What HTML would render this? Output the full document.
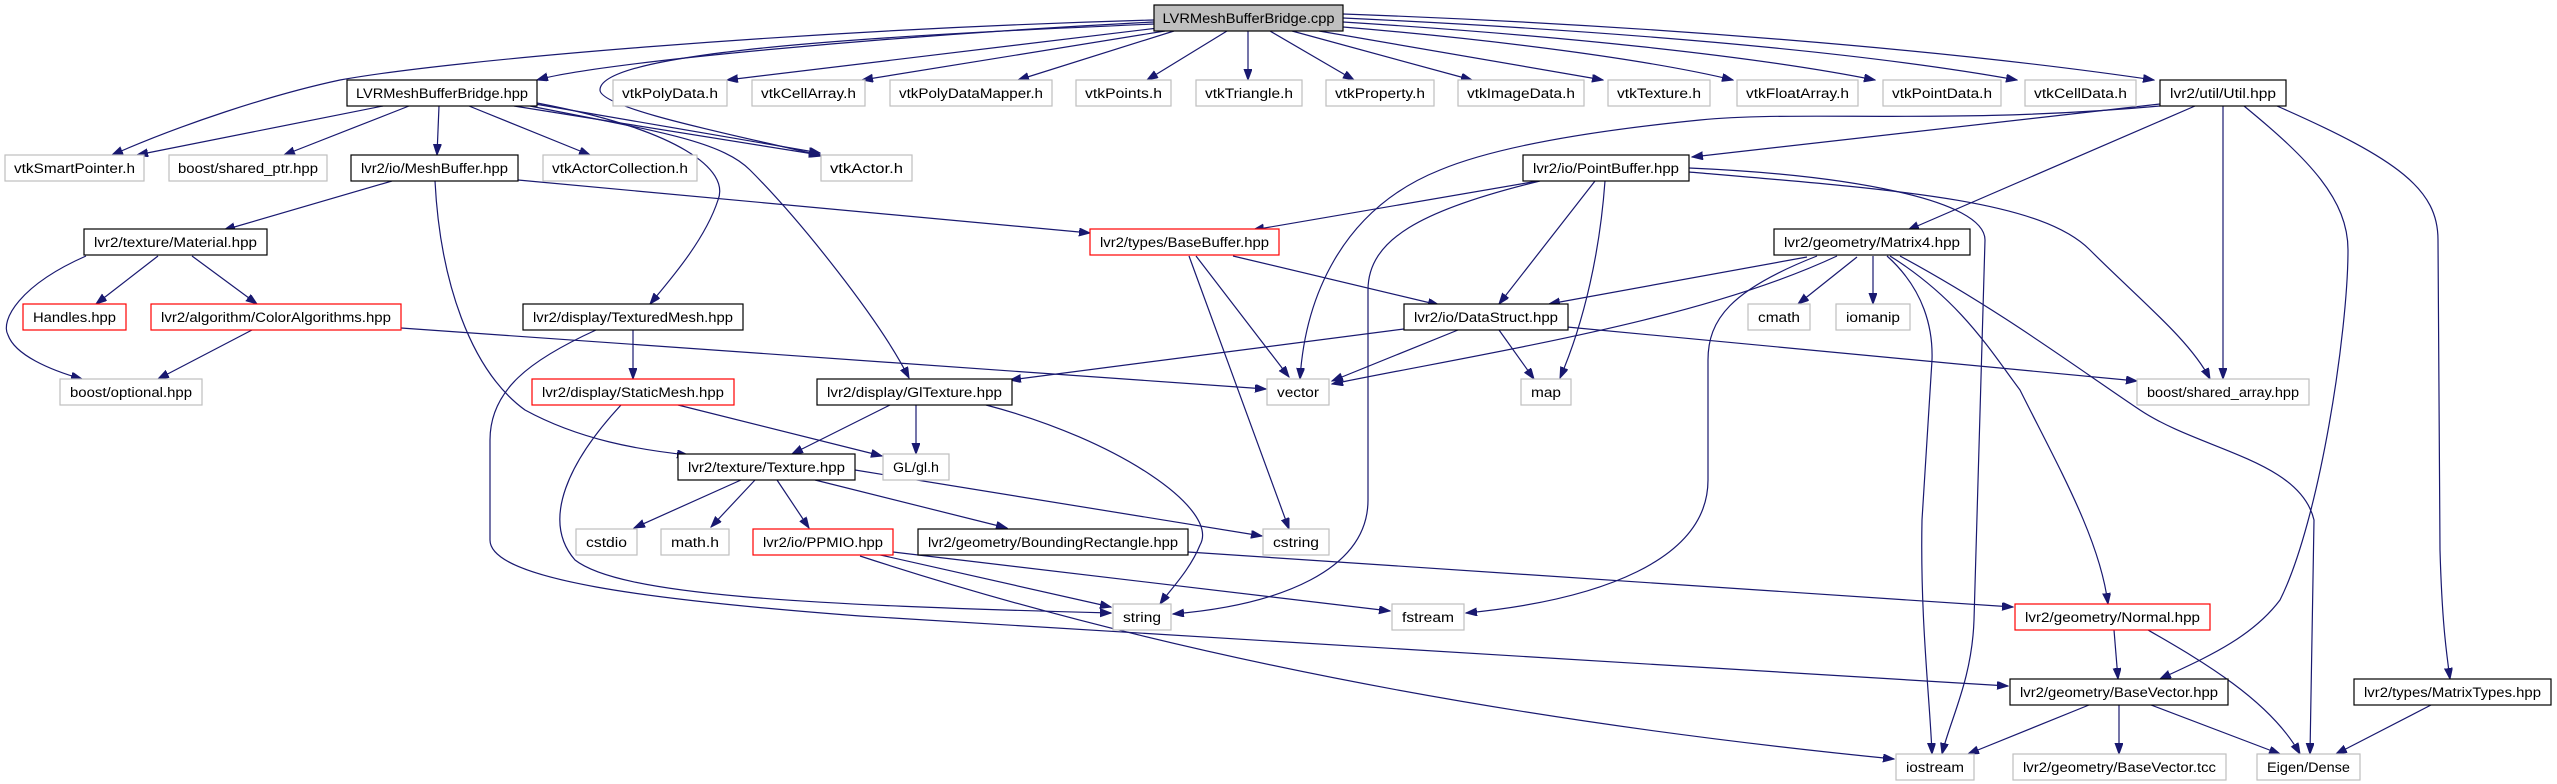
<!DOCTYPE html>
<html><head><meta charset="utf-8"><style>
html,body{margin:0;padding:0;background:#fff;}
svg{display:block;}
text{font-family:"Liberation Sans",sans-serif;font-size:13.5px;fill:#000;}
.g{fill:#fff;stroke:#bfbfbf;stroke-width:1.2}
.k{fill:#fff;stroke:#000;stroke-width:1.2}
.r{fill:#fff;stroke:#ff0000;stroke-width:1.2}
.e{fill:none;stroke:#191970;stroke-width:1.2;marker-end:url(#a)}
</style></head><body>
<svg width="2557" height="784" viewBox="0 0 2557 784" xmlns="http://www.w3.org/2000/svg">
<defs><marker id="a" markerUnits="userSpaceOnUse" markerWidth="12" markerHeight="10" refX="11" refY="4" orient="auto"><path d="M0,0 L11,4 L0,8 z" fill="#191970" stroke="#191970"/></marker></defs>
<g>
<path class="e" d="M1154,22 C900,35 600,62 537,80"/>
<path class="e" d="M1154,20 C800,30 450,60 340,80 C270,95 180,125 112,155"/>
<path class="e" d="M1154,24 C900,35 600,50 600,90 C600,110 760,140 822,156"/>
<path class="e" d="M1158,28 L727,80"/>
<path class="e" d="M1165,31 L862,80"/>
<path class="e" d="M1174,31 L1018,80"/>
<path class="e" d="M1227,31 L1147,80"/>
<path class="e" d="M1248,31 L1248,80"/>
<path class="e" d="M1270,31 L1354,80"/>
<path class="e" d="M1292,31 L1472,80"/>
<path class="e" d="M1319,31 L1603,80"/>
<path class="e" d="M1343,27 C1500,40 1650,60 1733,80"/>
<path class="e" d="M1343,22 C1550,35 1750,55 1875,80"/>
<path class="e" d="M1343,18 C1600,30 1850,50 2017,80"/>
<path class="e" d="M1343,14 C1650,25 1950,50 2154,80"/>
<path class="e" d="M383,106 L137,155"/>
<path class="e" d="M409,106 L284,155"/>
<path class="e" d="M439,106 L437,155"/>
<path class="e" d="M469,106 L590,155"/>
<path class="e" d="M514,106 L820,155"/>
<path class="e" d="M535,104 L820,153"/>
<path class="e" d="M537,103 C680,130 730,170 718,200 C705,240 670,280 650,304"/>
<path class="e" d="M530,106 C650,130 720,140 750,170 C800,220 880,320 909,378"/>
<path class="e" d="M392,181 L224,230"/>
<path class="e" d="M518,180 L1090,233"/>
<path class="e" d="M435,181 C440,280 470,370 525,410 C580,440 640,450 688,455"/>
<path class="e" d="M158,256 L96,304"/>
<path class="e" d="M192,256 L257,304"/>
<path class="e" d="M86,256 C20,285 0,320 8,335 C15,355 50,370 82,379"/>
<path class="e" d="M252,330 L158,379"/>
<path class="e" d="M401,328 L1266,389"/>
<path class="e" d="M633,330 L633,379"/>
<path class="e" d="M596,330 C530,360 490,390 490,440 L490,540 C490,580 650,600 860,616 L2008,686"/>
<path class="e" d="M678,405 L882,456"/>
<path class="e" d="M621,405 C570,460 540,520 575,560 C620,595 800,605 1111,613"/>
<path class="e" d="M890,405 L792,454"/>
<path class="e" d="M916,405 L916,454"/>
<path class="e" d="M986,405 C1120,440 1220,510 1200,545 C1190,570 1170,590 1160,604"/>
<path class="e" d="M741,480 L634,528"/>
<path class="e" d="M755,480 L711,527"/>
<path class="e" d="M777,480 L809,528"/>
<path class="e" d="M815,480 L1007,528"/>
<path class="e" d="M855,470 L1262,536"/>
<path class="e" d="M876,554 L1111,607"/>
<path class="e" d="M893,552 L1390,611"/>
<path class="e" d="M860,556 Q1300,700 1894,759"/>
<path class="e" d="M1188,552 L2013,607"/>
<path class="e" d="M1196,256 L1289,377"/>
<path class="e" d="M1189,256 L1289,529"/>
<path class="e" d="M1233,256 L1439,305"/>
<path class="e" d="M1538,181 L1253,230"/>
<path class="e" d="M1595,181 L1499,304"/>
<path class="e" d="M1605,181 C1600,250 1585,320 1560,378"/>
<path class="e" d="M1540,181 C1420,210 1368,240 1368,290 L1368,500 C1368,570 1280,605 1173,614"/>
<path class="e" d="M1689,168 C1850,175 1985,200 1985,240 L1974,620 C1972,680 1950,720 1942,754"/>
<path class="e" d="M1689,172 C1900,190 2040,200 2090,250 C2140,300 2190,340 2210,379"/>
<path class="e" d="M2160,104 L1692,157"/>
<path class="e" d="M2160,106 C1950,125 1800,110 1700,120 C1600,130 1500,145 1440,170 C1340,210 1305,300 1300,379"/>
<path class="e" d="M2195,106 L1908,230"/>
<path class="e" d="M2223,106 L2223,379"/>
<path class="e" d="M2244,106 C2310,160 2348,200 2348,250 C2348,330 2320,520 2280,600 C2250,640 2200,660 2160,679"/>
<path class="e" d="M2277,106 C2400,160 2438,190 2438,240 L2440,550 C2442,620 2446,650 2450,679"/>
<path class="e" d="M1807,257 L1549,304"/>
<path class="e" d="M1837,256 C1700,320 1500,350 1332,384"/>
<path class="e" d="M1857,257 L1798,304"/>
<path class="e" d="M1873,256 L1873,304"/>
<path class="e" d="M1817,256 C1730,290 1708,320 1708,360 L1708,480 C1708,560 1600,600 1466,613"/>
<path class="e" d="M1887,256 C1925,290 1933,330 1932,360 L1922,520 C1920,620 1930,700 1932,754"/>
<path class="e" d="M1890,256 C1960,300 1990,350 2020,390 C2060,470 2100,540 2108,604"/>
<path class="e" d="M1900,256 C2000,310 2080,370 2140,410 C2200,450 2300,460 2314,520 L2310,754"/>
<path class="e" d="M1404,329 L1010,380"/>
<path class="e" d="M1458,330 L1332,381"/>
<path class="e" d="M1499,330 L1534,379"/>
<path class="e" d="M1567,327 L2137,381"/>
<path class="e" d="M2114,630 L2118,679"/>
<path class="e" d="M2148,630 C2200,660 2270,700 2300,754"/>
<path class="e" d="M2089,705 L1968,754"/>
<path class="e" d="M2119,705 L2119,754"/>
<path class="e" d="M2151,705 L2280,754"/>
<path class="e" d="M2431,705 L2336,754"/>
</g>
<g>
<rect x="1154" y="5" width="189" height="26" fill="#bfbfbf" stroke="#000" stroke-width="1.2"/><text x="1248.5" y="23" text-anchor="middle" textLength="172" lengthAdjust="spacingAndGlyphs">LVRMeshBufferBridge.cpp</text>

<rect class="k" x="347" y="80" width="190" height="26"/><text x="442" y="98" text-anchor="middle" textLength="172" lengthAdjust="spacingAndGlyphs">LVRMeshBufferBridge.hpp</text>
<rect class="g" x="613" y="80" width="114" height="26"/><text x="670" y="98" text-anchor="middle" textLength="96" lengthAdjust="spacingAndGlyphs">vtkPolyData.h</text>
<rect class="g" x="752" y="80" width="113" height="26"/><text x="808.5" y="98" text-anchor="middle" textLength="95" lengthAdjust="spacingAndGlyphs">vtkCellArray.h</text>
<rect class="g" x="890" y="80" width="162" height="26"/><text x="971" y="98" text-anchor="middle" textLength="144" lengthAdjust="spacingAndGlyphs">vtkPolyDataMapper.h</text>
<rect class="g" x="1076" y="80" width="95" height="26"/><text x="1123.5" y="98" text-anchor="middle" textLength="77" lengthAdjust="spacingAndGlyphs">vtkPoints.h</text>
<rect class="g" x="1196" y="80" width="106" height="26"/><text x="1249" y="98" text-anchor="middle" textLength="88" lengthAdjust="spacingAndGlyphs">vtkTriangle.h</text>
<rect class="g" x="1326" y="80" width="108" height="26"/><text x="1380" y="98" text-anchor="middle" textLength="90" lengthAdjust="spacingAndGlyphs">vtkProperty.h</text>
<rect class="g" x="1458" y="80" width="126" height="26"/><text x="1521" y="98" text-anchor="middle" textLength="108" lengthAdjust="spacingAndGlyphs">vtkImageData.h</text>
<rect class="g" x="1608" y="80" width="102" height="26"/><text x="1659" y="98" text-anchor="middle" textLength="84" lengthAdjust="spacingAndGlyphs">vtkTexture.h</text>
<rect class="g" x="1737" y="80" width="121" height="26"/><text x="1797.5" y="98" text-anchor="middle" textLength="103" lengthAdjust="spacingAndGlyphs">vtkFloatArray.h</text>
<rect class="g" x="1883" y="80" width="118" height="26"/><text x="1942" y="98" text-anchor="middle" textLength="100" lengthAdjust="spacingAndGlyphs">vtkPointData.h</text>
<rect class="g" x="2025" y="80" width="111" height="26"/><text x="2080.5" y="98" text-anchor="middle" textLength="93" lengthAdjust="spacingAndGlyphs">vtkCellData.h</text>
<rect class="k" x="2160" y="80" width="126" height="26"/><text x="2223" y="98" text-anchor="middle" textLength="106" lengthAdjust="spacingAndGlyphs">lvr2/util/Util.hpp</text>

<rect class="g" x="5" y="155" width="139" height="26"/><text x="74.5" y="173" text-anchor="middle" textLength="121" lengthAdjust="spacingAndGlyphs">vtkSmartPointer.h</text>
<rect class="g" x="169" y="155" width="158" height="26"/><text x="248" y="173" text-anchor="middle" textLength="140" lengthAdjust="spacingAndGlyphs">boost/shared_ptr.hpp</text>
<rect class="k" x="351" y="155" width="167" height="26"/><text x="434.5" y="173" text-anchor="middle" textLength="147" lengthAdjust="spacingAndGlyphs">lvr2/io/MeshBuffer.hpp</text>
<rect class="g" x="543" y="155" width="154" height="26"/><text x="620" y="173" text-anchor="middle" textLength="136" lengthAdjust="spacingAndGlyphs">vtkActorCollection.h</text>
<rect class="g" x="821" y="155" width="91" height="26"/><text x="866.5" y="173" text-anchor="middle" textLength="73" lengthAdjust="spacingAndGlyphs">vtkActor.h</text>
<rect class="k" x="1523" y="155" width="166" height="26"/><text x="1606" y="173" text-anchor="middle" textLength="146" lengthAdjust="spacingAndGlyphs">lvr2/io/PointBuffer.hpp</text>

<rect class="k" x="84" y="229" width="183" height="26"/><text x="175.5" y="247" text-anchor="middle" textLength="163" lengthAdjust="spacingAndGlyphs">lvr2/texture/Material.hpp</text>
<rect class="r" x="1090" y="229" width="189" height="26"/><text x="1184.5" y="247" text-anchor="middle" textLength="169" lengthAdjust="spacingAndGlyphs">lvr2/types/BaseBuffer.hpp</text>
<rect class="k" x="1774" y="229" width="196" height="26"/><text x="1872" y="247" text-anchor="middle" textLength="176" lengthAdjust="spacingAndGlyphs">lvr2/geometry/Matrix4.hpp</text>

<rect class="r" x="23" y="304" width="103" height="26"/><text x="74.5" y="322" text-anchor="middle" textLength="83" lengthAdjust="spacingAndGlyphs">Handles.hpp</text>
<rect class="r" x="151" y="304" width="250" height="26"/><text x="276" y="322" text-anchor="middle" textLength="230" lengthAdjust="spacingAndGlyphs">lvr2/algorithm/ColorAlgorithms.hpp</text>
<rect class="k" x="523" y="304" width="220" height="26"/><text x="633" y="322" text-anchor="middle" textLength="200" lengthAdjust="spacingAndGlyphs">lvr2/display/TexturedMesh.hpp</text>
<rect class="k" x="1404" y="304" width="164" height="26"/><text x="1486" y="322" text-anchor="middle" textLength="144" lengthAdjust="spacingAndGlyphs">lvr2/io/DataStruct.hpp</text>
<rect class="g" x="1748" y="304" width="62" height="26"/><text x="1779" y="322" text-anchor="middle" textLength="42" lengthAdjust="spacingAndGlyphs">cmath</text>
<rect class="g" x="1836" y="304" width="74" height="26"/><text x="1873" y="322" text-anchor="middle" textLength="54" lengthAdjust="spacingAndGlyphs">iomanip</text>

<rect class="g" x="60" y="379" width="142" height="26"/><text x="131" y="397" text-anchor="middle" textLength="122" lengthAdjust="spacingAndGlyphs">boost/optional.hpp</text>
<rect class="r" x="532" y="379" width="202" height="26"/><text x="633" y="397" text-anchor="middle" textLength="182" lengthAdjust="spacingAndGlyphs">lvr2/display/StaticMesh.hpp</text>
<rect class="k" x="817" y="379" width="195" height="26"/><text x="914.5" y="397" text-anchor="middle" textLength="175" lengthAdjust="spacingAndGlyphs">lvr2/display/GlTexture.hpp</text>
<rect class="g" x="1267" y="379" width="62" height="26"/><text x="1298" y="397" text-anchor="middle" textLength="42" lengthAdjust="spacingAndGlyphs">vector</text>
<rect class="g" x="1521" y="379" width="50" height="26"/><text x="1546" y="397" text-anchor="middle" textLength="30" lengthAdjust="spacingAndGlyphs">map</text>
<rect class="g" x="2137" y="379" width="172" height="26"/><text x="2223" y="397" text-anchor="middle" textLength="152" lengthAdjust="spacingAndGlyphs">boost/shared_array.hpp</text>

<rect class="k" x="678" y="454" width="177" height="26"/><text x="766.5" y="472" text-anchor="middle" textLength="157" lengthAdjust="spacingAndGlyphs">lvr2/texture/Texture.hpp</text>
<rect class="g" x="883" y="454" width="66" height="26"/><text x="916" y="472" text-anchor="middle" textLength="46" lengthAdjust="spacingAndGlyphs">GL/gl.h</text>

<rect class="g" x="576" y="529" width="61" height="26"/><text x="606.5" y="547" text-anchor="middle" textLength="41" lengthAdjust="spacingAndGlyphs">cstdio</text>
<rect class="g" x="661" y="529" width="68" height="26"/><text x="695" y="547" text-anchor="middle" textLength="48" lengthAdjust="spacingAndGlyphs">math.h</text>
<rect class="r" x="753" y="529" width="140" height="26"/><text x="823" y="547" text-anchor="middle" textLength="120" lengthAdjust="spacingAndGlyphs">lvr2/io/PPMIO.hpp</text>
<rect class="k" x="918" y="529" width="270" height="26"/><text x="1053" y="547" text-anchor="middle" textLength="250" lengthAdjust="spacingAndGlyphs">lvr2/geometry/BoundingRectangle.hpp</text>
<rect class="g" x="1263" y="529" width="66" height="26"/><text x="1296" y="547" text-anchor="middle" textLength="46" lengthAdjust="spacingAndGlyphs">cstring</text>

<rect class="g" x="1113" y="604" width="58" height="26"/><text x="1142" y="622" text-anchor="middle" textLength="38" lengthAdjust="spacingAndGlyphs">string</text>
<rect class="g" x="1392" y="604" width="72" height="26"/><text x="1428" y="622" text-anchor="middle" textLength="52" lengthAdjust="spacingAndGlyphs">fstream</text>
<rect class="r" x="2015" y="604" width="195" height="26"/><text x="2112.5" y="622" text-anchor="middle" textLength="175" lengthAdjust="spacingAndGlyphs">lvr2/geometry/Normal.hpp</text>

<rect class="k" x="2010" y="679" width="218" height="26"/><text x="2119" y="697" text-anchor="middle" textLength="198" lengthAdjust="spacingAndGlyphs">lvr2/geometry/BaseVector.hpp</text>
<rect class="k" x="2354" y="679" width="197" height="26"/><text x="2452.5" y="697" text-anchor="middle" textLength="177" lengthAdjust="spacingAndGlyphs">lvr2/types/MatrixTypes.hpp</text>

<rect class="g" x="1896" y="754" width="78" height="26"/><text x="1935" y="772" text-anchor="middle" textLength="58" lengthAdjust="spacingAndGlyphs">iostream</text>
<rect class="g" x="2013" y="754" width="213" height="26"/><text x="2119.5" y="772" text-anchor="middle" textLength="193" lengthAdjust="spacingAndGlyphs">lvr2/geometry/BaseVector.tcc</text>
<rect class="g" x="2257" y="754" width="103" height="26"/><text x="2308.5" y="772" text-anchor="middle" textLength="83" lengthAdjust="spacingAndGlyphs">Eigen/Dense</text>
</g>
</svg>
</body></html>
